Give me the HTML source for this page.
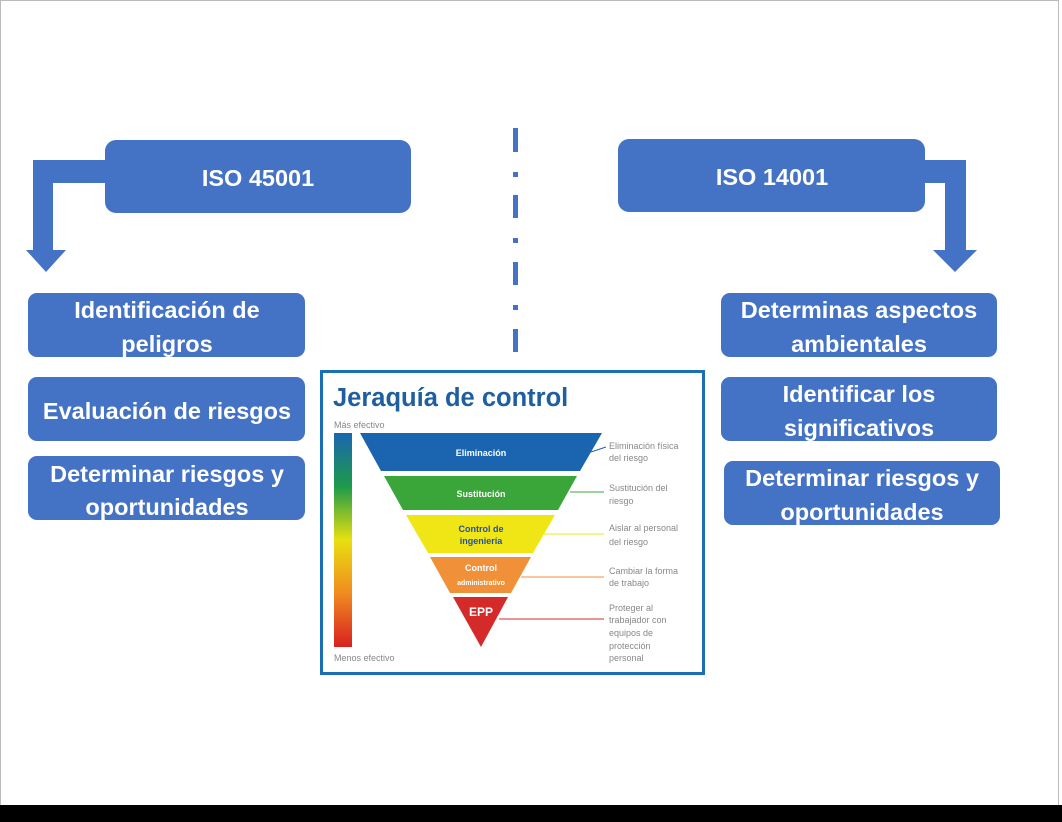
<!DOCTYPE html>
<html><head><meta charset="utf-8"><style>
html,body{margin:0;padding:0;background:#fff;}
body{width:1062px;height:822px;overflow:hidden;position:relative;font-family:"Liberation Sans",sans-serif;}
svg{position:absolute;left:0;top:0;}
.bt{font-family:"Liberation Sans",sans-serif;font-weight:bold;fill:#fff;font-size:23.5px;text-anchor:middle;}
.sm{font-family:"Liberation Sans",sans-serif;font-size:9px;fill:#888;}
</style></head><body>
<svg width="1062" height="822" viewBox="0 0 1062 822">
<defs>
<linearGradient id="g" x1="0" y1="0" x2="0" y2="1">
<stop offset="0" stop-color="#1a66b0"/><stop offset="0.25" stop-color="#1e9a4a"/><stop offset="0.5" stop-color="#e8e010"/><stop offset="0.75" stop-color="#f08a20"/><stop offset="1" stop-color="#d82020"/>
</linearGradient>
</defs>
<rect x="0.5" y="0.5" width="1058" height="805" fill="#fff" stroke="#bbb"/>
<rect x="0" y="805" width="1062" height="17" fill="#000"/>

<g fill="#4472C4">
<rect x="33" y="160" width="80" height="23"/><rect x="33" y="160" width="20" height="92"/>
<polygon points="26,250 66,250 46,272"/>
</g>
<g fill="#4472C4">
<rect x="888" y="160" width="78" height="23"/><rect x="945" y="160" width="21" height="92"/>
<polygon points="933,250 977,250 955,272"/>
</g>

<g fill="#4472C4">
<rect x="513" y="128" width="5" height="24"/><rect x="513" y="172" width="5" height="5"/>
<rect x="513" y="195" width="5" height="23"/><rect x="513" y="238" width="5" height="5"/>
<rect x="513" y="262" width="5" height="23"/><rect x="513" y="305" width="5" height="5"/>
<rect x="513" y="329" width="5" height="23"/>
</g>

<g><rect x="105" y="140" width="306" height="73" rx="11" fill="#4472C4"/><text class="bt" x="258" y="186">ISO 45001</text></g>
<g><rect x="618" y="139" width="307" height="73" rx="11" fill="#4472C4"/><text class="bt" x="772" y="185">ISO 14001</text></g>

<g><rect x="28" y="293" width="277" height="64" rx="9" fill="#4472C4"/><text class="bt" x="167" y="318">Identificación de</text><text class="bt" x="167" y="352">peligros</text></g>
<g><rect x="28" y="377" width="277" height="64" rx="9" fill="#4472C4"/><text class="bt" x="167" y="419">Evaluación de riesgos</text></g>
<g><rect x="28" y="456" width="277" height="64" rx="9" fill="#4472C4"/><text class="bt" x="167" y="482">Determinar riesgos y</text><text class="bt" x="167" y="515">oportunidades</text></g>

<g><rect x="721" y="293" width="276" height="64" rx="9" fill="#4472C4"/><text class="bt" x="859" y="318">Determinas aspectos</text><text class="bt" x="859" y="352">ambientales</text></g>
<g><rect x="721" y="377" width="276" height="64" rx="9" fill="#4472C4"/><text class="bt" x="859" y="402">Identificar los</text><text class="bt" x="859" y="436">significativos</text></g>
<g><rect x="724" y="461" width="276" height="64" rx="9" fill="#4472C4"/><text class="bt" x="862" y="486">Determinar riesgos y</text><text class="bt" x="862" y="520">oportunidades</text></g>

<g>
<rect x="321.5" y="371.5" width="382" height="302" fill="#fff" stroke="#1a6fb5" stroke-width="3"/>
<text x="333" y="406" font-family="Liberation Sans" font-weight="bold" font-size="25.5" fill="#1f5fa0">Jeraquía de control</text>
<text class="sm" x="334" y="428">Más efectivo</text>
<text class="sm" x="334" y="661">Menos efectivo</text>
<rect x="334" y="433" width="18" height="214" fill="url(#g)"/>
<polygon points="360,433 602,433 580,471 381,471" fill="#1b64b0"/>
<polygon points="384,476 577,476 558,510 403,510" fill="#3aa63a"/>
<polygon points="406,515 555,515 533,553 428,553" fill="#f0e616"/>
<polygon points="430,557 531,557 511,593 450,593" fill="#f0913a"/>
<polygon points="453,597 508,597 481,647" fill="#d42a2a"/>
<g font-family="Liberation Sans" font-weight="bold" font-size="9" text-anchor="middle">
<text x="481" y="456" fill="#fff">Eliminación</text>
<text x="481" y="497" fill="#fff">Sustitución</text>
<text x="481" y="532" fill="#1f4f9a">Control de</text>
<text x="481" y="544" fill="#1f4f9a">ingeniería</text>
<text x="481" y="571" fill="#fff">Control</text>
<text x="481" y="585" fill="#fff" font-size="7">administrativo</text>
<text x="481" y="616" fill="#fff" font-size="12">EPP</text>
</g>
<line x1="591" y1="452" x2="606" y2="447" stroke="#1b64b0"/>
<line x1="570" y1="492" x2="604" y2="492" stroke="#3aa63a"/>
<line x1="544" y1="534" x2="604" y2="534" stroke="#f0e616"/>
<line x1="521" y1="577" x2="604" y2="577" stroke="#f0913a"/>
<line x1="499" y1="619" x2="604" y2="619" stroke="#d42a2a"/>
<g class="sm">
<text x="609" y="449" class="sm">Eliminación física</text><text x="609" y="461" class="sm">del riesgo</text>
<text x="609" y="491" class="sm">Sustitución del</text><text x="609" y="504" class="sm">riesgo</text>
<text x="609" y="531" class="sm">Aislar al personal</text><text x="609" y="545" class="sm">del riesgo</text>
<text x="609" y="574" class="sm">Cambiar la forma</text><text x="609" y="586" class="sm">de trabajo</text>
<text x="609" y="611" class="sm">Proteger al</text><text x="609" y="623" class="sm">trabajador con</text><text x="609" y="636" class="sm">equipos de</text><text x="609" y="649" class="sm">protección</text><text x="609" y="661" class="sm">personal</text>
</g>
</g>
</svg>
</body></html>
